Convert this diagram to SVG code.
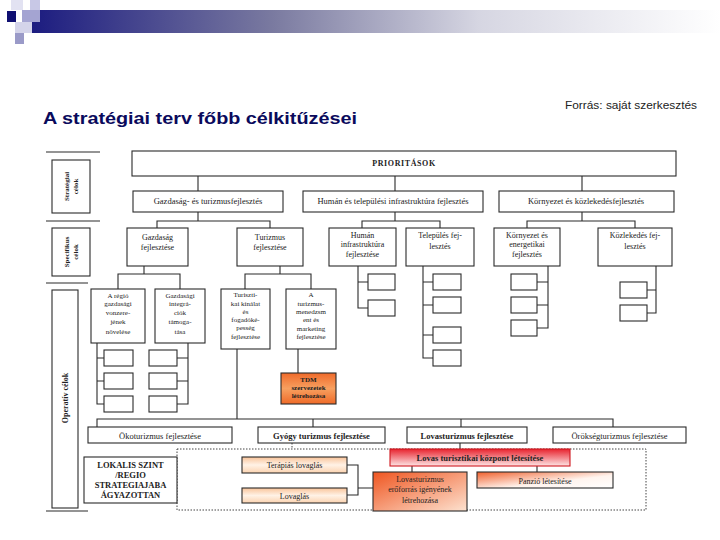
<svg xmlns="http://www.w3.org/2000/svg" width="720" height="540" viewBox="0 0 720 540">
<defs>
<linearGradient id="bar" x1="0" y1="0" x2="1" y2="0">
<stop offset="0" stop-color="#1c1c80"/>
<stop offset="0.35" stop-color="#7a7aa0"/>
<stop offset="0.65" stop-color="#d6d6e2"/>
<stop offset="1" stop-color="#ffffff"/>
</linearGradient>
<linearGradient id="peach" x1="0" y1="0" x2="0" y2="1">
<stop offset="0" stop-color="#f9c49a"/>
<stop offset="0.5" stop-color="#fff2e6"/>
<stop offset="1" stop-color="#fbd3b0"/>
</linearGradient>
<linearGradient id="tdm" x1="0" y1="0" x2="0" y2="1">
<stop offset="0" stop-color="#f06a2a"/>
<stop offset="0.5" stop-color="#f7a060"/>
<stop offset="1" stop-color="#ef6a28"/>
</linearGradient>
<linearGradient id="red" x1="0" y1="0" x2="0" y2="1">
<stop offset="0" stop-color="#e8232e"/>
<stop offset="1" stop-color="#fde4e4"/>
</linearGradient>
<linearGradient id="erof" x1="0" y1="0" x2="1" y2="1">
<stop offset="0" stop-color="#ef5520"/>
<stop offset="1" stop-color="#fde2d0"/>
</linearGradient>
<linearGradient id="panz" x1="0" y1="0" x2="1" y2="1">
<stop offset="0" stop-color="#f0602c"/>
<stop offset="0.6" stop-color="#fff4ee"/>
<stop offset="1" stop-color="#ffffff"/>
</linearGradient>
</defs>
<style>
.b{fill:#fff;stroke:#2a2a2a;stroke-width:1.1}
.c{fill:none;stroke:#2a2a2a;stroke-width:1.1}
.d{fill:none;stroke:#444;stroke-width:1;stroke-dasharray:1.5 1.5}
.t{font-family:"Liberation Serif","Times New Roman",serif;fill:#222;text-anchor:middle;font-size:8px}
.s{font-size:7px}
.m{font-size:8.5px}
.bd{font-weight:bold}
</style>

<g id="header">
<rect x="32" y="10" width="688" height="23" fill="url(#bar)"/>
<rect x="11" y="0" width="12" height="10" fill="#e2e2f2"/>
<rect x="30" y="0" width="10" height="10" fill="#c8c8e6"/>
<rect x="7" y="11" width="9" height="11" fill="#101072"/>
<rect x="22" y="10" width="18" height="12" fill="#a4a4d2"/>
<rect x="15" y="22" width="17" height="11" fill="#d4d4ea"/>
<rect x="15" y="33" width="9" height="11" fill="#9a9ac8"/>
</g>

<text x="43" y="124" font-family="'Liberation Sans',Arial,sans-serif" font-size="17" font-weight="bold" fill="#0a0a5c" textLength="314" lengthAdjust="spacingAndGlyphs">A stratégiai terv főbb célkitűzései</text>
<text x="565" y="109" font-family="'Liberation Sans',Arial,sans-serif" font-size="11" fill="#222" textLength="132" lengthAdjust="spacingAndGlyphs">Forrás: saját szerkesztés</text>

<g id="connectors">
<path class="c" d="M46 152H100M46 221H100M46 283H88M46 511H88"/>
<path class="c" d="M198 176V191M395 176V191M582 176V191"/>
<path class="c" d="M198 212V221M157 228V221H270V228M395 212V221M362 228V221H440V228M582 212V221M527 228V221H635V228"/>
<path class="c" d="M144 266V274M118 289V274H180V289M280 266V274M245 289V274H311V289"/>
<path class="c" d="M358 266V308H368M358 282H368"/>
<path class="c" d="M423 266V358H433M423 282H433M423 305H433M423 335H433"/>
<path class="c" d="M548 266V328H537M548 282H537M548 305H537"/>
<path class="c" d="M656 266V313H647M656 290H647"/>
<path class="c" d="M97 343V404H104M97 358H104M97 381H104"/>
<path class="c" d="M188 343V404H177M188 358H177M188 381H177"/>
<path class="c" d="M237 349V419M298 349V373"/>
<path class="c" d="M97 427V419H613V427M313 419V427M461 419V427"/>
<path class="c" d="M460 443V449M412 466V472M537 466V472"/>
<path class="c" d="M347 465H358V495H347M358 488H373"/>
<path class="d" d="M292 443V449"/>
<rect class="d" x="177" y="449" width="469" height="61"/>
</g>

<g id="lbl-strategiai">
<rect class="b" x="52" y="160" width="38" height="53"/>
<g transform="translate(71,186.5) rotate(-90)"><text class="t s bd" x="0" y="-2">Stratégiai</text><text class="t s bd" x="0" y="7">célok</text></g>
</g>
<g id="lbl-specifikus">
<rect class="b" x="52" y="228" width="38" height="48"/>
<g transform="translate(71,252) rotate(-90)"><text class="t s bd" x="0" y="-2">Specifikus</text><text class="t s bd" x="0" y="7">célok</text></g>
</g>
<g id="lbl-operativ">
<rect class="b" x="52" y="290" width="26" height="218"/>
<text class="t bd" transform="translate(68,398) rotate(-90)" x="0" y="0">Operatív célok</text>
</g>

<g id="prioritasok"><rect class="b" x="132" y="151" width="544" height="25"/><text class="t bd" x="404" y="166" letter-spacing="0.6">PRIORITÁSOK</text></g>

<g id="p1"><rect class="b" x="133" y="191" width="150" height="21"/><text class="t m" x="208" y="204">Gazdaság- és turizmusfejlesztés</text></g>
<g id="p2"><rect class="b" x="303" y="191" width="180" height="21"/><text class="t m" x="393" y="204">Humán és települési infrastruktúra fejlesztés</text></g>
<g id="p3"><rect class="b" x="499" y="191" width="175" height="21"/><text class="t m" x="586" y="204">Környezet és közlekedésfejlesztés</text></g>

<g id="s1"><rect class="b" x="127" y="228" width="61" height="38"/><text class="t" x="157.5" y="240">Gazdaság</text><text class="t" x="157.5" y="250">fejlesztése</text></g>
<g id="s2"><rect class="b" x="237" y="228" width="66" height="38"/><text class="t" x="270" y="240">Turizmus</text><text class="t" x="270" y="250">fejlesztése</text></g>
<g id="s3"><rect class="b" x="329" y="228" width="67" height="38"/><text class="t" x="362.5" y="238">Humán</text><text class="t" x="362.5" y="247">infrastruktúra</text><text class="t" x="362.5" y="257">fejlesztése</text></g>
<g id="s4"><rect class="b" x="406" y="228" width="68" height="38"/><text class="t" x="440" y="238">Település fej-</text><text class="t" x="440" y="249">lesztés</text></g>
<g id="s5"><rect class="b" x="494" y="228" width="66" height="38"/><text class="t" x="527" y="238">Környezet és</text><text class="t" x="527" y="247">energetikai</text><text class="t" x="527" y="257">fejlesztés</text></g>
<g id="s6"><rect class="b" x="598" y="228" width="74" height="38"/><text class="t" x="635" y="238">Közlekedés fej-</text><text class="t" x="635" y="249">lesztés</text></g>

<g id="o1"><rect class="b" x="91" y="289" width="54" height="54"/><text class="t s" x="118" y="298">A régió</text><text class="t s" x="118" y="306">gazdasági</text><text class="t s" x="118" y="315">vonzere-</text><text class="t s" x="118" y="324">jének</text><text class="t s" x="118" y="334">növelése</text></g>
<g id="o2"><rect class="b" x="155" y="289" width="50" height="54"/><text class="t s" x="180" y="298">Gazdasági</text><text class="t s" x="180" y="306">integrá-</text><text class="t s" x="180" y="315">ciók</text><text class="t s" x="180" y="324">támoga-</text><text class="t s" x="180" y="334">tása</text></g>
<g id="o3"><rect class="b" x="221" y="289" width="49" height="60"/><text class="t s" x="245.5" y="297">Turiszti-</text><text class="t s" x="245.5" y="306">kai kínálat</text><text class="t s" x="245.5" y="314">és</text><text class="t s" x="245.5" y="322">fogadóké-</text><text class="t s" x="245.5" y="330">pesség</text><text class="t s" x="245.5" y="339">fejlesztése</text></g>
<g id="o4"><rect class="b" x="286" y="289" width="50" height="60"/><text class="t s" x="311" y="297">A</text><text class="t s" x="311" y="306">turizmus-</text><text class="t s" x="311" y="314">menedzsm</text><text class="t s" x="311" y="322">ent és</text><text class="t s" x="311" y="331">marketing</text><text class="t s" x="311" y="339">fejlesztése</text></g>
<g id="tdm"><rect x="281" y="373" width="55" height="31" fill="url(#tdm)" stroke="#2a2a2a" stroke-width="1.1"/><text class="t s bd" x="308.5" y="382" font-size="6">TDM</text><text class="t s bd" x="308.5" y="390" font-size="6">szervezetek</text><text class="t s bd" x="308.5" y="398" font-size="6">létrehozása</text></g>

<g id="empty">
<rect class="b" x="104" y="350" width="29" height="16"/><rect class="b" x="104" y="373" width="29" height="16"/><rect class="b" x="104" y="396" width="29" height="16"/>
<rect class="b" x="149" y="350" width="28" height="16"/><rect class="b" x="149" y="373" width="28" height="16"/><rect class="b" x="149" y="396" width="28" height="16"/>
<rect class="b" x="368" y="274" width="27" height="16"/><rect class="b" x="368" y="300" width="27" height="16"/>
<rect class="b" x="433" y="274" width="28" height="16"/><rect class="b" x="433" y="297" width="28" height="16"/><rect class="b" x="433" y="327" width="28" height="16"/><rect class="b" x="433" y="350" width="28" height="16"/>
<rect class="b" x="511" y="274" width="26" height="16"/><rect class="b" x="511" y="297" width="26" height="16"/><rect class="b" x="511" y="320" width="26" height="16"/>
<rect class="b" x="620" y="282" width="27" height="16"/><rect class="b" x="620" y="305" width="27" height="16"/>
</g>

<g id="t1"><rect class="b" x="88" y="427" width="144" height="16"/><text class="t m" x="160" y="438.5">Ökoturizmus fejlesztése</text></g>
<g id="t2"><rect class="b" x="258" y="427" width="127" height="16"/><text class="t m bd" x="321.5" y="438.5">Gyógy turizmus fejlesztése</text></g>
<g id="t3"><rect class="b" x="407" y="427" width="120" height="16"/><text class="t m bd" x="467" y="438.5">Lovasturizmus fejlesztése</text></g>
<g id="t4"><rect class="b" x="553" y="427" width="133" height="16"/><text class="t m" x="619.5" y="438.5">Örökségturizmus fejlesztése</text></g>

<g id="lokalis"><rect class="b" x="84" y="457" width="93" height="46"/><text class="t m bd" x="130.5" y="468">LOKALIS SZINT</text><text class="t m bd" x="130.5" y="478">/REGIO</text><text class="t m bd" x="130.5" y="488">STRATEGIAJABA</text><text class="t m bd" x="130.5" y="498">ÁGYAZOTTAN</text></g>

<g id="terapias"><rect x="242" y="457" width="105" height="16" fill="url(#peach)" stroke="#2a2a2a" stroke-width="1.1"/><text class="t" x="294.5" y="468">Terápiás lovaglás</text></g>
<g id="lovaglas"><rect x="242" y="488" width="105" height="15" fill="url(#peach)" stroke="#2a2a2a" stroke-width="1.1"/><text class="t" x="294.5" y="499">Lovaglás</text></g>
<g id="kozpont"><rect x="390" y="449" width="180" height="17" fill="url(#red)" stroke="#d01820" stroke-width="1.1"/><text class="t m bd" x="480" y="461">Lovas turisztikai központ létesítése</text></g>
<g id="eroforras"><rect x="373" y="472" width="94" height="39" fill="url(#erof)" stroke="#2a2a2a" stroke-width="1.1"/><text class="t" x="420" y="482">Lovasturizmus</text><text class="t" x="420" y="492">erőforrás igényének</text><text class="t" x="420" y="503">létrehozása</text></g>
<g id="panzio"><rect x="477" y="472" width="136" height="16" fill="url(#panz)" stroke="#2a2a2a" stroke-width="1.1"/><text class="t" x="545" y="483.5">Panzió létesítése</text></g>
</svg>
